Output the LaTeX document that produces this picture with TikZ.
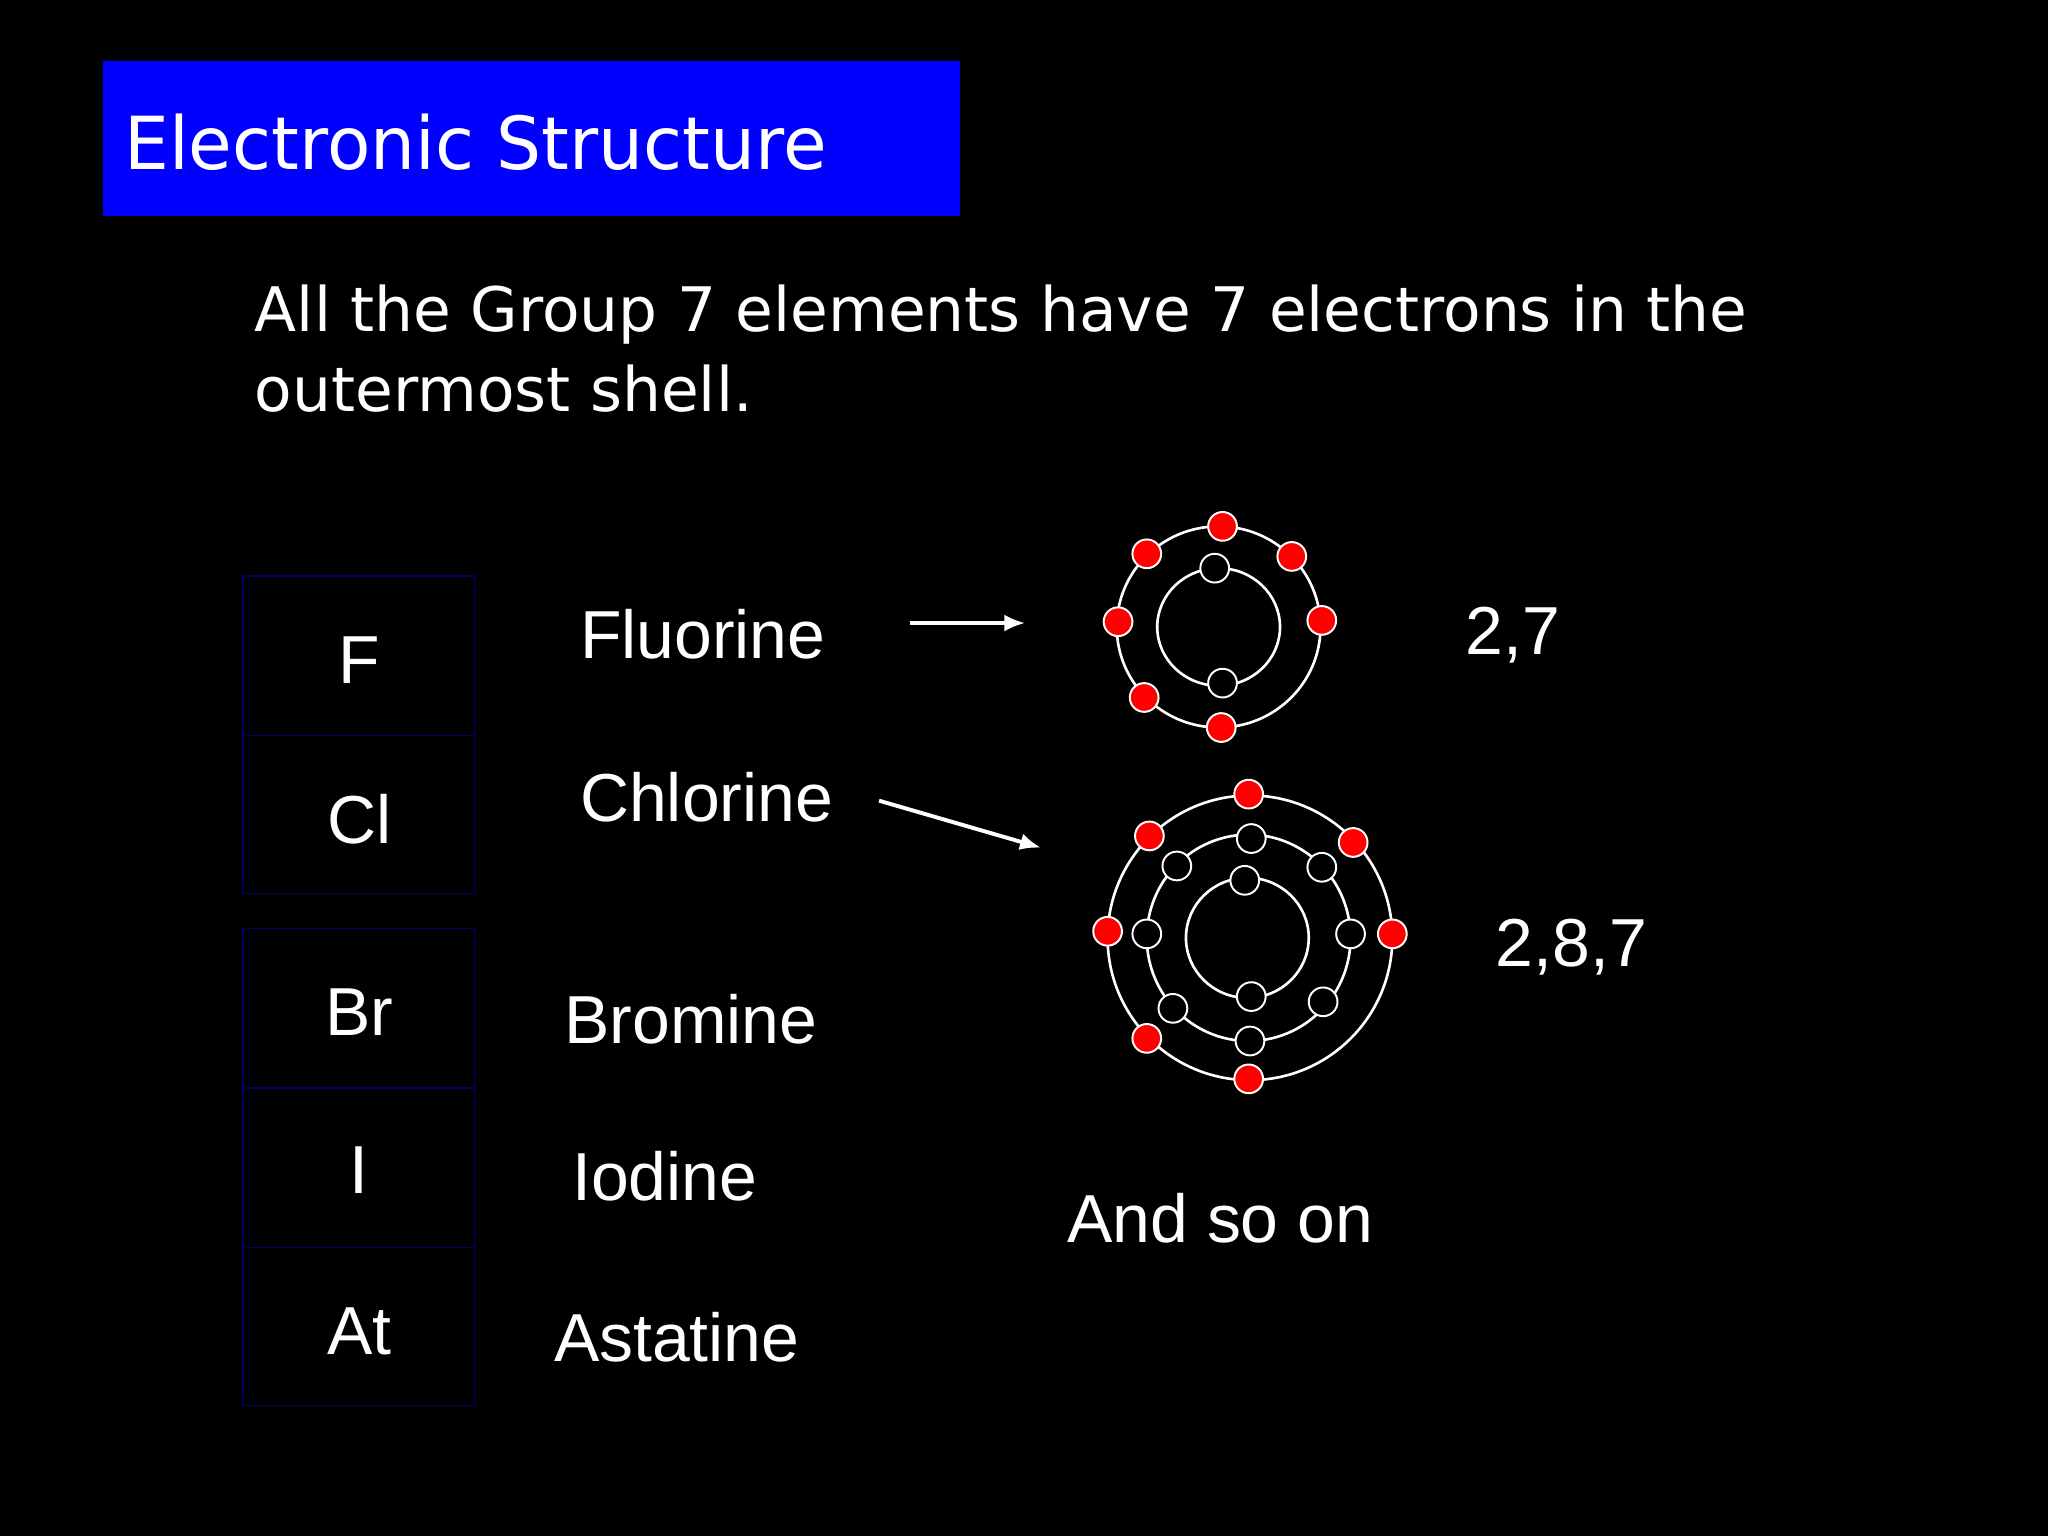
\documentclass[tikz,border=0pt]{standalone}
\usepackage{fontspec}
\usetikzlibrary{arrows.meta}
\setmainfont{Liberation Sans}
\newfontfamily\titlefont{DejaVu Sans}
\begin{document}
\begin{tikzpicture}[x=1pt,y=-1pt,
  txt/.style={text=white,anchor=base west,inner sep=0pt,font=\fontsize{52}{60}\selectfont},
  sym/.style={text=white,anchor=base,inner sep=0pt,font=\fontsize{52}{60}\selectfont},
  cell/.style={draw=blue!40!black,line width=1.2pt},
  ring/.style={draw=white,line width=2pt},
  eout/.style={circle,fill=red,draw=white,line width=1.5pt,minimum size=22pt,inner sep=0pt},
  ein/.style={circle,fill=black,draw=white,line width=1.5pt,minimum size=22pt,inner sep=0pt},
  arr/.style={draw=white,line width=3pt,-{Latex[length=16pt,width=13pt]}}]
\fill[black] (0,0) rectangle (1568,1176);
\useasboundingbox (0,0) rectangle (1568,1176);
\fill[blue] (79,47) rectangle (735,165);
\node[txt,font=\titlefont\fontsize{56}{66}\selectfont,xscale=0.97] (title) at (95,130) {Electronic Structure};
\node[txt,font=\titlefont\fontsize{47}{56}\selectfont] (l1) at (195,254) {All the Group 7 elements have 7 electrons in the};
\node[txt,font=\titlefont\fontsize{47}{56}\selectfont] (l2) at (195,315) {outermost shell.};
% table
\draw[cell] (186,441) rectangle (364,563);
\draw[cell] (186,563) rectangle (364,684);
\draw[cell] (186,711) rectangle (364,833);
\draw[cell] (186,833) rectangle (364,955);
\draw[cell] (186,955) rectangle (364,1076);
\node[sym] (sF) at (275,523) {F};
\node[sym] (sCl) at (275,646) {Cl};
\node[sym] (sBr) at (275,793) {Br};
\node[sym] (sI) at (275,914) {I};
\node[sym] (sAt) at (275,1037) {At};
\node[txt] (nF) at (444,504) {Fluorine};
\node[txt] (nCl) at (444,629) {Chlorine};
\node[txt] (nBr) at (432,799) {Bromine};
\node[txt] (nI) at (438,919) {Iodine};
\node[txt] (nAt) at (424,1042) {Astatine};
% arrows
\coordinate (a1s) at (697,477); \coordinate (a1e) at (785,477);
\coordinate (a2s) at (673,613); \coordinate (a2e) at (797,649);
\draw[arr] (a1s) -- (a1e);
\draw[arr] (a2s) -- (a2e);
% fluorine atom
\draw[ring] (933,480) ellipse (78 and 77);
\draw[ring] (933,480) ellipse (47 and 45);
\foreach \p in {(930,435),(936,523)} \node[ein] at \p {};
\foreach \p in {(936,403),(878,424),(989,426),(856,476),(1012,475),(876,534),(935,557)} \node[eout] at \p {};
% chlorine atom
\draw[ring] (957,718) ellipse (109 and 109);
\draw[ring] (956,718) ellipse (78 and 79);
\draw[ring] (955,718) ellipse (47 and 46);
\foreach \p in {(953,674),(958,763),(958,642),(901,663),(1012,664),(878,715),(1034,715),(898,772),(1013,767),(957,797)} \node[ein] at \p {};
\foreach \p in {(956,608),(880,640),(1036,645),(848,713),(1066,715),(878,795),(956,826)} \node[eout] at \p {};
\node[txt] (c1) at (1122,501) {2,7};
\node[txt] (c2) at (1145,740) {2,8,7};
\node[txt] (more) at (817,951) {And so on};
\end{tikzpicture}
\end{document}
